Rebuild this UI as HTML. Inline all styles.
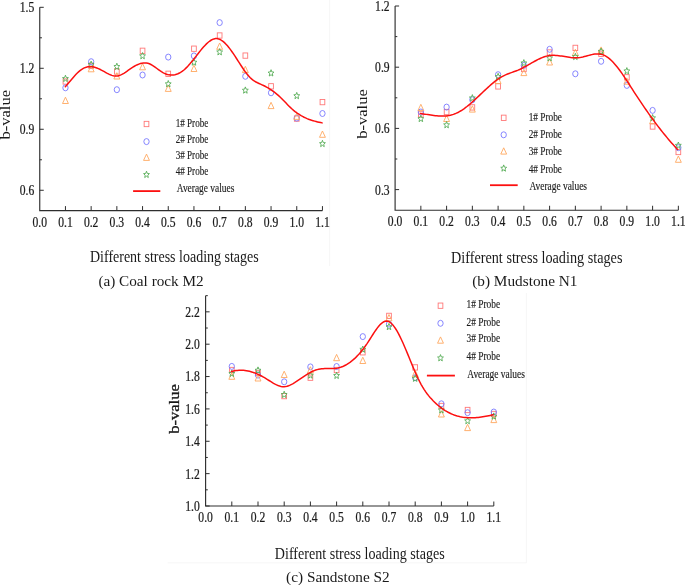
<!DOCTYPE html>
<html><head><meta charset="utf-8"><style>
html,body{margin:0;padding:0;background:#fff;}
body{width:685px;height:585px;overflow:hidden;}
svg{display:block;will-change:transform;filter:blur(0.3px);}
text{font-family:"Liberation Serif", serif;fill:#1a1a1a;}
.tk{font-size:14px;stroke:#222;stroke-width:0.25px;}
.yt{font-size:16.5px;}
.xt{font-size:16px;}
.cap{font-size:15px;}
.lg{font-size:11.8px;stroke:#222;stroke-width:0.15px;}
</style></head><body>
<svg width="685" height="585" viewBox="0 0 685 585">
<rect width="685" height="585" fill="#fff"/>
<line x1="329.6" y1="0" x2="329.6" y2="266" stroke="#f4f4f4" stroke-width="0.8"/>
<path d="M167.7,562.8 H526.4 V293" fill="none" stroke="#f4f4f4" stroke-width="0.8"/>
<path d="M39.75,7.30 V210.60 H322.45" fill="none" stroke="#2e2e2e" stroke-width="1.15"/>
<line x1="65.45" y1="210.60" x2="65.45" y2="206.10" stroke="#2e2e2e" stroke-width="1"/>
<line x1="91.15" y1="210.60" x2="91.15" y2="206.10" stroke="#2e2e2e" stroke-width="1"/>
<line x1="116.85" y1="210.60" x2="116.85" y2="206.10" stroke="#2e2e2e" stroke-width="1"/>
<line x1="142.55" y1="210.60" x2="142.55" y2="206.10" stroke="#2e2e2e" stroke-width="1"/>
<line x1="168.25" y1="210.60" x2="168.25" y2="206.10" stroke="#2e2e2e" stroke-width="1"/>
<line x1="193.95" y1="210.60" x2="193.95" y2="206.10" stroke="#2e2e2e" stroke-width="1"/>
<line x1="219.65" y1="210.60" x2="219.65" y2="206.10" stroke="#2e2e2e" stroke-width="1"/>
<line x1="245.35" y1="210.60" x2="245.35" y2="206.10" stroke="#2e2e2e" stroke-width="1"/>
<line x1="271.05" y1="210.60" x2="271.05" y2="206.10" stroke="#2e2e2e" stroke-width="1"/>
<line x1="296.75" y1="210.60" x2="296.75" y2="206.10" stroke="#2e2e2e" stroke-width="1"/>
<line x1="322.45" y1="210.60" x2="322.45" y2="206.10" stroke="#2e2e2e" stroke-width="1"/>
<text transform="translate(39.75,226.50) scale(0.83,1)" text-anchor="middle" class="tk">0.0</text>
<text transform="translate(65.45,226.50) scale(0.83,1)" text-anchor="middle" class="tk">0.1</text>
<text transform="translate(91.15,226.50) scale(0.83,1)" text-anchor="middle" class="tk">0.2</text>
<text transform="translate(116.85,226.50) scale(0.83,1)" text-anchor="middle" class="tk">0.3</text>
<text transform="translate(142.55,226.50) scale(0.83,1)" text-anchor="middle" class="tk">0.4</text>
<text transform="translate(168.25,226.50) scale(0.83,1)" text-anchor="middle" class="tk">0.5</text>
<text transform="translate(193.95,226.50) scale(0.83,1)" text-anchor="middle" class="tk">0.6</text>
<text transform="translate(219.65,226.50) scale(0.83,1)" text-anchor="middle" class="tk">0.7</text>
<text transform="translate(245.35,226.50) scale(0.83,1)" text-anchor="middle" class="tk">0.8</text>
<text transform="translate(271.05,226.50) scale(0.83,1)" text-anchor="middle" class="tk">0.9</text>
<text transform="translate(296.75,226.50) scale(0.83,1)" text-anchor="middle" class="tk">1.0</text>
<text transform="translate(322.45,226.50) scale(0.83,1)" text-anchor="middle" class="tk">1.1</text>
<line x1="39.75" y1="7.30" x2="43.75" y2="7.30" stroke="#2e2e2e" stroke-width="1"/>
<text transform="translate(34.25,12.20) scale(0.83,1)" text-anchor="end" class="tk">1.5</text>
<line x1="39.75" y1="68.29" x2="43.75" y2="68.29" stroke="#2e2e2e" stroke-width="1"/>
<text transform="translate(34.25,73.19) scale(0.83,1)" text-anchor="end" class="tk">1.2</text>
<line x1="39.75" y1="129.28" x2="43.75" y2="129.28" stroke="#2e2e2e" stroke-width="1"/>
<text transform="translate(34.25,134.18) scale(0.83,1)" text-anchor="end" class="tk">0.9</text>
<line x1="39.75" y1="190.27" x2="43.75" y2="190.27" stroke="#2e2e2e" stroke-width="1"/>
<text transform="translate(34.25,195.17) scale(0.83,1)" text-anchor="end" class="tk">0.6</text>
<line x1="39.75" y1="37.79" x2="41.95" y2="37.79" stroke="#2e2e2e" stroke-width="1"/>
<line x1="39.75" y1="98.78" x2="41.95" y2="98.78" stroke="#2e2e2e" stroke-width="1"/>
<line x1="39.75" y1="159.78" x2="41.95" y2="159.78" stroke="#2e2e2e" stroke-width="1"/>
<text transform="translate(10.30,114.70) scale(0.82,1) rotate(-90)" text-anchor="middle" class="yt">b-value</text>
<text transform="translate(90.00,262.00) scale(0.875,1)" class="xt">Different stress loading stages</text>
<text transform="translate(98.40,285.90) scale(1.015,1)" class="cap">(a) Coal rock M2</text>
<rect x="63.10" y="78.85" width="4.7" height="5.3" fill="none" stroke="#ff7878" stroke-width="0.9"/>
<rect x="88.80" y="63.15" width="4.7" height="5.3" fill="none" stroke="#ff7878" stroke-width="0.9"/>
<rect x="114.50" y="68.85" width="4.7" height="5.3" fill="none" stroke="#ff7878" stroke-width="0.9"/>
<rect x="140.20" y="48.15" width="4.7" height="5.3" fill="none" stroke="#ff7878" stroke-width="0.9"/>
<rect x="165.90" y="71.15" width="4.7" height="5.3" fill="none" stroke="#ff7878" stroke-width="0.9"/>
<rect x="191.60" y="46.05" width="4.7" height="5.3" fill="none" stroke="#ff7878" stroke-width="0.9"/>
<rect x="217.30" y="32.85" width="4.7" height="5.3" fill="none" stroke="#ff7878" stroke-width="0.9"/>
<rect x="243.00" y="52.95" width="4.7" height="5.3" fill="none" stroke="#ff7878" stroke-width="0.9"/>
<rect x="268.70" y="83.65" width="4.7" height="5.3" fill="none" stroke="#ff7878" stroke-width="0.9"/>
<rect x="294.40" y="115.95" width="4.7" height="5.3" fill="none" stroke="#ff7878" stroke-width="0.9"/>
<rect x="320.10" y="99.45" width="4.7" height="5.3" fill="none" stroke="#ff7878" stroke-width="0.9"/>
<ellipse cx="65.45" cy="87.80" rx="2.65" ry="3.0" fill="none" stroke="#7878ff" stroke-width="0.9"/>
<ellipse cx="91.15" cy="61.70" rx="2.65" ry="3.0" fill="none" stroke="#7878ff" stroke-width="0.9"/>
<ellipse cx="116.85" cy="89.70" rx="2.65" ry="3.0" fill="none" stroke="#7878ff" stroke-width="0.9"/>
<ellipse cx="142.55" cy="75.00" rx="2.65" ry="3.0" fill="none" stroke="#7878ff" stroke-width="0.9"/>
<ellipse cx="168.25" cy="57.10" rx="2.65" ry="3.0" fill="none" stroke="#7878ff" stroke-width="0.9"/>
<ellipse cx="193.95" cy="55.90" rx="2.65" ry="3.0" fill="none" stroke="#7878ff" stroke-width="0.9"/>
<ellipse cx="219.65" cy="22.60" rx="2.65" ry="3.0" fill="none" stroke="#7878ff" stroke-width="0.9"/>
<ellipse cx="245.35" cy="76.30" rx="2.65" ry="3.0" fill="none" stroke="#7878ff" stroke-width="0.9"/>
<ellipse cx="271.05" cy="92.80" rx="2.65" ry="3.0" fill="none" stroke="#7878ff" stroke-width="0.9"/>
<ellipse cx="296.75" cy="118.10" rx="2.65" ry="3.0" fill="none" stroke="#7878ff" stroke-width="0.9"/>
<ellipse cx="322.45" cy="113.50" rx="2.65" ry="3.0" fill="none" stroke="#7878ff" stroke-width="0.9"/>
<path d="M65.45,97.20 L68.40,103.50 L62.50,103.50 Z" fill="none" stroke="#ffa860" stroke-width="0.9" stroke-linejoin="miter"/>
<path d="M91.15,65.50 L94.10,71.80 L88.20,71.80 Z" fill="none" stroke="#ffa860" stroke-width="0.9" stroke-linejoin="miter"/>
<path d="M116.85,72.70 L119.80,79.00 L113.90,79.00 Z" fill="none" stroke="#ffa860" stroke-width="0.9" stroke-linejoin="miter"/>
<path d="M142.55,63.50 L145.50,69.80 L139.60,69.80 Z" fill="none" stroke="#ffa860" stroke-width="0.9" stroke-linejoin="miter"/>
<path d="M168.25,85.10 L171.20,91.40 L165.30,91.40 Z" fill="none" stroke="#ffa860" stroke-width="0.9" stroke-linejoin="miter"/>
<path d="M193.95,65.20 L196.90,71.50 L191.00,71.50 Z" fill="none" stroke="#ffa860" stroke-width="0.9" stroke-linejoin="miter"/>
<path d="M219.65,43.00 L222.60,49.30 L216.70,49.30 Z" fill="none" stroke="#ffa860" stroke-width="0.9" stroke-linejoin="miter"/>
<path d="M245.35,66.30 L248.30,72.60 L242.40,72.60 Z" fill="none" stroke="#ffa860" stroke-width="0.9" stroke-linejoin="miter"/>
<path d="M271.05,102.30 L274.00,108.60 L268.10,108.60 Z" fill="none" stroke="#ffa860" stroke-width="0.9" stroke-linejoin="miter"/>
<path d="M296.75,113.10 L299.70,119.40 L293.80,119.40 Z" fill="none" stroke="#ffa860" stroke-width="0.9" stroke-linejoin="miter"/>
<path d="M322.45,131.00 L325.40,137.30 L319.50,137.30 Z" fill="none" stroke="#ffa860" stroke-width="0.9" stroke-linejoin="miter"/>
<path d="M65.45,75.20 L66.25,77.45 L68.38,77.62 L66.75,79.18 L67.26,81.53 L65.45,80.25 L63.64,81.53 L64.15,79.18 L62.52,77.62 L64.65,77.45 Z" fill="none" stroke="#56ad56" stroke-width="0.9"/>
<path d="M91.15,61.10 L91.95,63.35 L94.08,63.52 L92.45,65.08 L92.96,67.43 L91.15,66.15 L89.34,67.43 L89.85,65.08 L88.22,63.52 L90.35,63.35 Z" fill="none" stroke="#56ad56" stroke-width="0.9"/>
<path d="M116.85,63.20 L117.65,65.45 L119.78,65.62 L118.15,67.18 L118.66,69.53 L116.85,68.25 L115.04,69.53 L115.55,67.18 L113.92,65.62 L116.05,65.45 Z" fill="none" stroke="#56ad56" stroke-width="0.9"/>
<path d="M142.55,52.50 L143.35,54.75 L145.48,54.92 L143.85,56.48 L144.36,58.83 L142.55,57.55 L140.74,58.83 L141.25,56.48 L139.62,54.92 L141.75,54.75 Z" fill="none" stroke="#56ad56" stroke-width="0.9"/>
<path d="M168.25,80.50 L169.05,82.75 L171.18,82.92 L169.55,84.48 L170.06,86.83 L168.25,85.55 L166.44,86.83 L166.95,84.48 L165.32,82.92 L167.45,82.75 Z" fill="none" stroke="#56ad56" stroke-width="0.9"/>
<path d="M193.95,58.90 L194.75,61.15 L196.88,61.32 L195.25,62.88 L195.76,65.23 L193.95,63.95 L192.14,65.23 L192.65,62.88 L191.02,61.32 L193.15,61.15 Z" fill="none" stroke="#56ad56" stroke-width="0.9"/>
<path d="M219.65,48.60 L220.45,50.85 L222.58,51.02 L220.95,52.58 L221.46,54.93 L219.65,53.65 L217.84,54.93 L218.35,52.58 L216.72,51.02 L218.85,50.85 Z" fill="none" stroke="#56ad56" stroke-width="0.9"/>
<path d="M245.35,86.90 L246.15,89.15 L248.28,89.32 L246.65,90.88 L247.16,93.23 L245.35,91.95 L243.54,93.23 L244.05,90.88 L242.42,89.32 L244.55,89.15 Z" fill="none" stroke="#56ad56" stroke-width="0.9"/>
<path d="M271.05,69.70 L271.85,71.95 L273.98,72.12 L272.35,73.68 L272.86,76.03 L271.05,74.75 L269.24,76.03 L269.75,73.68 L268.12,72.12 L270.25,71.95 Z" fill="none" stroke="#56ad56" stroke-width="0.9"/>
<path d="M296.75,92.40 L297.55,94.65 L299.68,94.82 L298.05,96.38 L298.56,98.73 L296.75,97.45 L294.94,98.73 L295.45,96.38 L293.82,94.82 L295.95,94.65 Z" fill="none" stroke="#56ad56" stroke-width="0.9"/>
<path d="M322.45,140.30 L323.25,142.55 L325.38,142.72 L323.75,144.28 L324.26,146.63 L322.45,145.35 L320.64,146.63 L321.15,144.28 L319.52,142.72 L321.65,142.55 Z" fill="none" stroke="#56ad56" stroke-width="0.9"/>
<path d="M65.30,86.78 L66.80,85.03 L68.30,83.24 L69.81,81.45 L71.31,79.66 L72.81,77.91 L74.31,76.21 L75.81,74.59 L77.31,73.07 L78.82,71.66 L80.32,70.40 L81.82,69.30 L83.32,68.38 L84.82,67.67 L86.32,67.15 L87.83,66.81 L89.33,66.65 L90.83,66.65 L92.33,66.79 L93.83,67.07 L95.34,67.47 L96.84,67.98 L98.34,68.58 L99.84,69.27 L101.34,70.04 L102.84,70.86 L104.35,71.70 L105.85,72.55 L107.35,73.36 L108.85,74.12 L110.35,74.79 L111.85,75.35 L113.36,75.77 L114.86,76.02 L116.36,76.08 L117.86,75.90 L119.36,75.51 L120.86,74.91 L122.37,74.16 L123.87,73.28 L125.37,72.31 L126.87,71.28 L128.37,70.21 L129.88,69.16 L131.38,68.13 L132.88,67.17 L134.38,66.26 L135.88,65.44 L137.38,64.71 L138.89,64.09 L140.39,63.58 L141.89,63.21 L143.39,62.99 L144.89,62.92 L146.39,63.03 L147.90,63.32 L149.40,63.81 L150.90,64.50 L152.40,65.35 L153.90,66.32 L155.41,67.38 L156.91,68.48 L158.41,69.59 L159.91,70.68 L161.41,71.70 L162.91,72.61 L164.42,73.39 L165.92,74.03 L167.42,74.51 L168.92,74.86 L170.42,75.05 L171.92,75.09 L173.43,74.99 L174.93,74.73 L176.43,74.32 L177.93,73.76 L179.43,73.05 L180.94,72.18 L182.44,71.15 L183.94,69.97 L185.44,68.63 L186.94,67.15 L188.44,65.55 L189.95,63.85 L191.45,62.06 L192.95,60.21 L194.45,58.31 L195.95,56.39 L197.45,54.45 L198.96,52.53 L200.46,50.64 L201.96,48.81 L203.46,47.05 L204.96,45.40 L206.46,43.87 L207.97,42.49 L209.47,41.28 L210.97,40.26 L212.47,39.46 L213.97,38.91 L215.48,38.61 L216.98,38.60 L218.48,38.89 L219.98,39.46 L221.48,40.29 L222.98,41.36 L224.49,42.65 L225.99,44.15 L227.49,45.82 L228.99,47.65 L230.49,49.62 L231.99,51.71 L233.50,53.90 L235.00,56.16 L236.50,58.48 L238.00,60.83 L239.50,63.18 L241.01,65.51 L242.51,67.78 L244.01,69.98 L245.51,72.07 L247.01,74.03 L248.51,75.84 L250.02,77.46 L251.52,78.87 L253.02,80.07 L254.52,81.10 L256.02,81.99 L257.52,82.77 L259.03,83.49 L260.53,84.17 L262.03,84.84 L263.53,85.55 L265.03,86.29 L266.54,87.09 L268.04,87.94 L269.54,88.85 L271.04,89.81 L272.54,90.83 L274.04,91.92 L275.55,93.08 L277.05,94.31 L278.55,95.61 L280.05,96.99 L281.55,98.45 L283.05,99.97 L284.56,101.52 L286.06,103.09 L287.56,104.65 L289.06,106.18 L290.56,107.65 L292.06,109.05 L293.57,110.35 L295.07,111.57 L296.57,112.70 L298.07,113.75 L299.57,114.73 L301.08,115.63 L302.58,116.46 L304.08,117.23 L305.58,117.94 L307.08,118.59 L308.58,119.19 L310.09,119.74 L311.59,120.25 L313.09,120.71 L314.59,121.14 L316.09,121.54 L317.59,121.91 L319.10,122.25 L320.60,122.58 L322.10,122.89" fill="none" stroke="#fc1010" stroke-width="1.5" stroke-linecap="round"/>
<rect x="144.15" y="121.35" width="4.7" height="5.3" fill="none" stroke="#ff7878" stroke-width="0.9"/>
<text x="175.70" y="127.30" class="lg" textLength="32.6" lengthAdjust="spacingAndGlyphs">1# Probe</text>
<ellipse cx="146.50" cy="141.60" rx="2.65" ry="3.0" fill="none" stroke="#7878ff" stroke-width="0.9"/>
<text x="175.70" y="143.30" class="lg" textLength="32.6" lengthAdjust="spacingAndGlyphs">2# Probe</text>
<path d="M146.50,154.10 L149.45,160.40 L143.55,160.40 Z" fill="none" stroke="#ffa860" stroke-width="0.9" stroke-linejoin="miter"/>
<text x="175.70" y="158.50" class="lg" textLength="32.6" lengthAdjust="spacingAndGlyphs">3# Probe</text>
<path d="M146.50,171.20 L147.30,173.45 L149.43,173.62 L147.80,175.18 L148.31,177.53 L146.50,176.25 L144.69,177.53 L145.20,175.18 L143.57,173.62 L145.70,173.45 Z" fill="none" stroke="#56ad56" stroke-width="0.9"/>
<text x="175.70" y="174.60" class="lg" textLength="32.6" lengthAdjust="spacingAndGlyphs">4# Probe</text>
<line x1="133.10" y1="191.10" x2="160.30" y2="191.10" stroke="#fc1010" stroke-width="1.8"/>
<text x="176.80" y="191.70" class="lg" textLength="57.5" lengthAdjust="spacingAndGlyphs">Average values</text>
<path d="M395.10,6.00 V210.25 H678.35" fill="none" stroke="#2e2e2e" stroke-width="1.15"/>
<line x1="420.85" y1="210.25" x2="420.85" y2="205.75" stroke="#2e2e2e" stroke-width="1"/>
<line x1="446.60" y1="210.25" x2="446.60" y2="205.75" stroke="#2e2e2e" stroke-width="1"/>
<line x1="472.35" y1="210.25" x2="472.35" y2="205.75" stroke="#2e2e2e" stroke-width="1"/>
<line x1="498.10" y1="210.25" x2="498.10" y2="205.75" stroke="#2e2e2e" stroke-width="1"/>
<line x1="523.85" y1="210.25" x2="523.85" y2="205.75" stroke="#2e2e2e" stroke-width="1"/>
<line x1="549.60" y1="210.25" x2="549.60" y2="205.75" stroke="#2e2e2e" stroke-width="1"/>
<line x1="575.35" y1="210.25" x2="575.35" y2="205.75" stroke="#2e2e2e" stroke-width="1"/>
<line x1="601.10" y1="210.25" x2="601.10" y2="205.75" stroke="#2e2e2e" stroke-width="1"/>
<line x1="626.85" y1="210.25" x2="626.85" y2="205.75" stroke="#2e2e2e" stroke-width="1"/>
<line x1="652.60" y1="210.25" x2="652.60" y2="205.75" stroke="#2e2e2e" stroke-width="1"/>
<line x1="678.35" y1="210.25" x2="678.35" y2="205.75" stroke="#2e2e2e" stroke-width="1"/>
<text transform="translate(395.10,226.20) scale(0.83,1)" text-anchor="middle" class="tk">0.0</text>
<text transform="translate(420.85,226.20) scale(0.83,1)" text-anchor="middle" class="tk">0.1</text>
<text transform="translate(446.60,226.20) scale(0.83,1)" text-anchor="middle" class="tk">0.2</text>
<text transform="translate(472.35,226.20) scale(0.83,1)" text-anchor="middle" class="tk">0.3</text>
<text transform="translate(498.10,226.20) scale(0.83,1)" text-anchor="middle" class="tk">0.4</text>
<text transform="translate(523.85,226.20) scale(0.83,1)" text-anchor="middle" class="tk">0.5</text>
<text transform="translate(549.60,226.20) scale(0.83,1)" text-anchor="middle" class="tk">0.6</text>
<text transform="translate(575.35,226.20) scale(0.83,1)" text-anchor="middle" class="tk">0.7</text>
<text transform="translate(601.10,226.20) scale(0.83,1)" text-anchor="middle" class="tk">0.8</text>
<text transform="translate(626.85,226.20) scale(0.83,1)" text-anchor="middle" class="tk">0.9</text>
<text transform="translate(652.60,226.20) scale(0.83,1)" text-anchor="middle" class="tk">1.0</text>
<text transform="translate(678.35,226.20) scale(0.83,1)" text-anchor="middle" class="tk">1.1</text>
<line x1="395.10" y1="6.00" x2="399.10" y2="6.00" stroke="#2e2e2e" stroke-width="1"/>
<text transform="translate(389.60,10.90) scale(0.83,1)" text-anchor="end" class="tk">1.2</text>
<line x1="395.10" y1="67.20" x2="399.10" y2="67.20" stroke="#2e2e2e" stroke-width="1"/>
<text transform="translate(389.60,72.10) scale(0.83,1)" text-anchor="end" class="tk">0.9</text>
<line x1="395.10" y1="128.40" x2="399.10" y2="128.40" stroke="#2e2e2e" stroke-width="1"/>
<text transform="translate(389.60,133.30) scale(0.83,1)" text-anchor="end" class="tk">0.6</text>
<line x1="395.10" y1="189.60" x2="399.10" y2="189.60" stroke="#2e2e2e" stroke-width="1"/>
<text transform="translate(389.60,194.50) scale(0.83,1)" text-anchor="end" class="tk">0.3</text>
<line x1="395.10" y1="36.60" x2="397.30" y2="36.60" stroke="#2e2e2e" stroke-width="1"/>
<line x1="395.10" y1="97.80" x2="397.30" y2="97.80" stroke="#2e2e2e" stroke-width="1"/>
<line x1="395.10" y1="159.00" x2="397.30" y2="159.00" stroke="#2e2e2e" stroke-width="1"/>
<text transform="translate(366.60,114.00) scale(0.82,1) rotate(-90)" text-anchor="middle" class="yt">b-value</text>
<text transform="translate(451.00,262.50) scale(0.889,1)" class="xt">Different stress loading stages</text>
<text transform="translate(472.20,285.90) scale(1.02,1)" class="cap">(b) Mudstone N1</text>
<rect x="418.50" y="111.75" width="4.7" height="5.3" fill="none" stroke="#ff7878" stroke-width="0.9"/>
<rect x="444.25" y="109.35" width="4.7" height="5.3" fill="none" stroke="#ff7878" stroke-width="0.9"/>
<rect x="470.00" y="104.75" width="4.7" height="5.3" fill="none" stroke="#ff7878" stroke-width="0.9"/>
<rect x="495.75" y="83.75" width="4.7" height="5.3" fill="none" stroke="#ff7878" stroke-width="0.9"/>
<rect x="521.50" y="66.35" width="4.7" height="5.3" fill="none" stroke="#ff7878" stroke-width="0.9"/>
<rect x="547.25" y="49.85" width="4.7" height="5.3" fill="none" stroke="#ff7878" stroke-width="0.9"/>
<rect x="573.00" y="45.25" width="4.7" height="5.3" fill="none" stroke="#ff7878" stroke-width="0.9"/>
<rect x="598.75" y="51.15" width="4.7" height="5.3" fill="none" stroke="#ff7878" stroke-width="0.9"/>
<rect x="624.50" y="74.65" width="4.7" height="5.3" fill="none" stroke="#ff7878" stroke-width="0.9"/>
<rect x="650.25" y="123.85" width="4.7" height="5.3" fill="none" stroke="#ff7878" stroke-width="0.9"/>
<rect x="676.00" y="149.35" width="4.7" height="5.3" fill="none" stroke="#ff7878" stroke-width="0.9"/>
<ellipse cx="420.85" cy="112.00" rx="2.65" ry="3.0" fill="none" stroke="#7878ff" stroke-width="0.9"/>
<ellipse cx="446.60" cy="107.10" rx="2.65" ry="3.0" fill="none" stroke="#7878ff" stroke-width="0.9"/>
<ellipse cx="472.35" cy="99.80" rx="2.65" ry="3.0" fill="none" stroke="#7878ff" stroke-width="0.9"/>
<ellipse cx="498.10" cy="74.70" rx="2.65" ry="3.0" fill="none" stroke="#7878ff" stroke-width="0.9"/>
<ellipse cx="523.85" cy="65.40" rx="2.65" ry="3.0" fill="none" stroke="#7878ff" stroke-width="0.9"/>
<ellipse cx="549.60" cy="49.30" rx="2.65" ry="3.0" fill="none" stroke="#7878ff" stroke-width="0.9"/>
<ellipse cx="575.35" cy="73.80" rx="2.65" ry="3.0" fill="none" stroke="#7878ff" stroke-width="0.9"/>
<ellipse cx="601.10" cy="61.30" rx="2.65" ry="3.0" fill="none" stroke="#7878ff" stroke-width="0.9"/>
<ellipse cx="626.85" cy="85.40" rx="2.65" ry="3.0" fill="none" stroke="#7878ff" stroke-width="0.9"/>
<ellipse cx="652.60" cy="110.40" rx="2.65" ry="3.0" fill="none" stroke="#7878ff" stroke-width="0.9"/>
<ellipse cx="678.35" cy="147.70" rx="2.65" ry="3.0" fill="none" stroke="#7878ff" stroke-width="0.9"/>
<path d="M420.85,104.30 L423.80,110.60 L417.90,110.60 Z" fill="none" stroke="#ffa860" stroke-width="0.9" stroke-linejoin="miter"/>
<path d="M446.60,115.20 L449.55,121.50 L443.65,121.50 Z" fill="none" stroke="#ffa860" stroke-width="0.9" stroke-linejoin="miter"/>
<path d="M472.35,105.80 L475.30,112.10 L469.40,112.10 Z" fill="none" stroke="#ffa860" stroke-width="0.9" stroke-linejoin="miter"/>
<path d="M498.10,77.20 L501.05,83.50 L495.15,83.50 Z" fill="none" stroke="#ffa860" stroke-width="0.9" stroke-linejoin="miter"/>
<path d="M523.85,69.30 L526.80,75.60 L520.90,75.60 Z" fill="none" stroke="#ffa860" stroke-width="0.9" stroke-linejoin="miter"/>
<path d="M549.60,58.70 L552.55,65.00 L546.65,65.00 Z" fill="none" stroke="#ffa860" stroke-width="0.9" stroke-linejoin="miter"/>
<path d="M575.35,49.20 L578.30,55.50 L572.40,55.50 Z" fill="none" stroke="#ffa860" stroke-width="0.9" stroke-linejoin="miter"/>
<path d="M601.10,46.90 L604.05,53.20 L598.15,53.20 Z" fill="none" stroke="#ffa860" stroke-width="0.9" stroke-linejoin="miter"/>
<path d="M626.85,77.90 L629.80,84.20 L623.90,84.20 Z" fill="none" stroke="#ffa860" stroke-width="0.9" stroke-linejoin="miter"/>
<path d="M652.60,117.40 L655.55,123.70 L649.65,123.70 Z" fill="none" stroke="#ffa860" stroke-width="0.9" stroke-linejoin="miter"/>
<path d="M678.35,156.00 L681.30,162.30 L675.40,162.30 Z" fill="none" stroke="#ffa860" stroke-width="0.9" stroke-linejoin="miter"/>
<path d="M420.85,115.30 L421.65,117.55 L423.78,117.72 L422.15,119.28 L422.66,121.63 L420.85,120.35 L419.04,121.63 L419.55,119.28 L417.92,117.72 L420.05,117.55 Z" fill="none" stroke="#56ad56" stroke-width="0.9"/>
<path d="M446.60,121.50 L447.40,123.75 L449.53,123.92 L447.90,125.48 L448.41,127.83 L446.60,126.55 L444.79,127.83 L445.30,125.48 L443.67,123.92 L445.80,123.75 Z" fill="none" stroke="#56ad56" stroke-width="0.9"/>
<path d="M472.35,94.60 L473.15,96.85 L475.28,97.02 L473.65,98.58 L474.16,100.93 L472.35,99.65 L470.54,100.93 L471.05,98.58 L469.42,97.02 L471.55,96.85 Z" fill="none" stroke="#56ad56" stroke-width="0.9"/>
<path d="M498.10,73.30 L498.90,75.55 L501.03,75.72 L499.40,77.28 L499.91,79.63 L498.10,78.35 L496.29,79.63 L496.80,77.28 L495.17,75.72 L497.30,75.55 Z" fill="none" stroke="#56ad56" stroke-width="0.9"/>
<path d="M523.85,59.60 L524.65,61.85 L526.78,62.02 L525.15,63.58 L525.66,65.93 L523.85,64.65 L522.04,65.93 L522.55,63.58 L520.92,62.02 L523.05,61.85 Z" fill="none" stroke="#56ad56" stroke-width="0.9"/>
<path d="M549.60,54.60 L550.40,56.85 L552.53,57.02 L550.90,58.58 L551.41,60.93 L549.60,59.65 L547.79,60.93 L548.30,58.58 L546.67,57.02 L548.80,56.85 Z" fill="none" stroke="#56ad56" stroke-width="0.9"/>
<path d="M575.35,53.30 L576.15,55.55 L578.28,55.72 L576.65,57.28 L577.16,59.63 L575.35,58.35 L573.54,59.63 L574.05,57.28 L572.42,55.72 L574.55,55.55 Z" fill="none" stroke="#56ad56" stroke-width="0.9"/>
<path d="M601.10,48.00 L601.90,50.25 L604.03,50.42 L602.40,51.98 L602.91,54.33 L601.10,53.05 L599.29,54.33 L599.80,51.98 L598.17,50.42 L600.30,50.25 Z" fill="none" stroke="#56ad56" stroke-width="0.9"/>
<path d="M626.85,67.60 L627.65,69.85 L629.78,70.02 L628.15,71.58 L628.66,73.93 L626.85,72.65 L625.04,73.93 L625.55,71.58 L623.92,70.02 L626.05,69.85 Z" fill="none" stroke="#56ad56" stroke-width="0.9"/>
<path d="M652.60,114.50 L653.40,116.75 L655.53,116.92 L653.90,118.48 L654.41,120.83 L652.60,119.55 L650.79,120.83 L651.30,118.48 L649.67,116.92 L651.80,116.75 Z" fill="none" stroke="#56ad56" stroke-width="0.9"/>
<path d="M678.35,142.00 L679.15,144.25 L681.28,144.42 L679.65,145.98 L680.16,148.33 L678.35,147.05 L676.54,148.33 L677.05,145.98 L675.42,144.42 L677.55,144.25 Z" fill="none" stroke="#56ad56" stroke-width="0.9"/>
<path d="M420.30,113.53 L421.80,113.72 L423.31,113.92 L424.81,114.14 L426.32,114.37 L427.82,114.60 L429.33,114.83 L430.83,115.05 L432.34,115.27 L433.84,115.46 L435.35,115.64 L436.85,115.79 L438.36,115.92 L439.86,116.00 L441.37,116.05 L442.87,116.05 L444.37,116.00 L445.88,115.89 L447.38,115.73 L448.89,115.49 L450.39,115.19 L451.90,114.82 L453.40,114.36 L454.91,113.82 L456.41,113.19 L457.92,112.46 L459.42,111.65 L460.93,110.76 L462.43,109.80 L463.94,108.77 L465.44,107.67 L466.95,106.51 L468.45,105.30 L469.95,104.05 L471.46,102.75 L472.96,101.42 L474.47,100.05 L475.97,98.67 L477.48,97.26 L478.98,95.84 L480.49,94.41 L481.99,92.97 L483.50,91.54 L485.00,90.12 L486.51,88.71 L488.01,87.33 L489.52,85.97 L491.02,84.64 L492.52,83.36 L494.03,82.12 L495.53,80.94 L497.04,79.81 L498.54,78.76 L500.05,77.78 L501.55,76.88 L503.06,76.06 L504.56,75.33 L506.07,74.65 L507.57,74.03 L509.08,73.45 L510.58,72.90 L512.09,72.36 L513.59,71.82 L515.09,71.27 L516.60,70.70 L518.10,70.10 L519.61,69.45 L521.11,68.75 L522.62,68.00 L524.12,67.21 L525.63,66.39 L527.13,65.55 L528.64,64.69 L530.14,63.83 L531.65,62.97 L533.15,62.12 L534.66,61.28 L536.16,60.47 L537.66,59.69 L539.17,58.95 L540.67,58.26 L542.18,57.63 L543.68,57.06 L545.19,56.56 L546.69,56.14 L548.20,55.81 L549.70,55.57 L551.21,55.42 L552.71,55.36 L554.22,55.36 L555.72,55.42 L557.23,55.54 L558.73,55.70 L560.24,55.89 L561.74,56.11 L563.24,56.35 L564.75,56.60 L566.25,56.84 L567.76,57.08 L569.26,57.29 L570.77,57.48 L572.27,57.63 L573.78,57.73 L575.28,57.78 L576.79,57.77 L578.29,57.68 L579.80,57.51 L581.30,57.26 L582.81,56.95 L584.31,56.58 L585.81,56.19 L587.32,55.78 L588.82,55.37 L590.33,54.98 L591.83,54.63 L593.34,54.33 L594.84,54.10 L596.35,53.96 L597.85,53.92 L599.36,54.01 L600.86,54.23 L602.37,54.61 L603.87,55.16 L605.38,55.89 L606.88,56.80 L608.38,57.88 L609.89,59.11 L611.39,60.49 L612.90,62.01 L614.40,63.65 L615.91,65.41 L617.41,67.28 L618.92,69.24 L620.42,71.28 L621.93,73.40 L623.43,75.58 L624.94,77.81 L626.44,80.09 L627.95,82.41 L629.45,84.74 L630.95,87.09 L632.46,89.44 L633.96,91.78 L635.47,94.10 L636.97,96.40 L638.48,98.69 L639.98,100.95 L641.49,103.19 L642.99,105.41 L644.50,107.61 L646.00,109.79 L647.51,111.94 L649.01,114.07 L650.52,116.17 L652.02,118.25 L653.53,120.31 L655.03,122.34 L656.53,124.35 L658.04,126.33 L659.54,128.28 L661.05,130.21 L662.55,132.11 L664.06,133.98 L665.56,135.82 L667.07,137.64 L668.57,139.42 L670.08,141.18 L671.58,142.91 L673.09,144.60 L674.59,146.27 L676.10,147.90 L677.60,149.50" fill="none" stroke="#fc1010" stroke-width="1.5" stroke-linecap="round"/>
<rect x="501.35" y="115.15" width="4.7" height="5.3" fill="none" stroke="#ff7878" stroke-width="0.9"/>
<text x="528.70" y="121.40" class="lg" textLength="33.3" lengthAdjust="spacingAndGlyphs">1# Probe</text>
<ellipse cx="503.70" cy="134.80" rx="2.65" ry="3.0" fill="none" stroke="#7878ff" stroke-width="0.9"/>
<text x="528.70" y="138.00" class="lg" textLength="33.3" lengthAdjust="spacingAndGlyphs">2# Probe</text>
<path d="M503.70,147.80 L506.65,154.10 L500.75,154.10 Z" fill="none" stroke="#ffa860" stroke-width="0.9" stroke-linejoin="miter"/>
<text x="528.70" y="154.60" class="lg" textLength="33.3" lengthAdjust="spacingAndGlyphs">3# Probe</text>
<path d="M503.70,164.90 L504.50,167.15 L506.63,167.32 L505.00,168.88 L505.51,171.23 L503.70,169.95 L501.89,171.23 L502.40,168.88 L500.77,167.32 L502.90,167.15 Z" fill="none" stroke="#56ad56" stroke-width="0.9"/>
<text x="528.70" y="173.10" class="lg" textLength="33.3" lengthAdjust="spacingAndGlyphs">4# Probe</text>
<line x1="490.00" y1="185.20" x2="517.70" y2="185.20" stroke="#fc1010" stroke-width="1.8"/>
<text x="529.50" y="190.40" class="lg" textLength="57.5" lengthAdjust="spacingAndGlyphs">Average values</text>
<path d="M205.60,295.66 V506.00 H493.80" fill="none" stroke="#2e2e2e" stroke-width="1.15"/>
<line x1="231.80" y1="506.00" x2="231.80" y2="501.50" stroke="#2e2e2e" stroke-width="1"/>
<line x1="258.00" y1="506.00" x2="258.00" y2="501.50" stroke="#2e2e2e" stroke-width="1"/>
<line x1="284.20" y1="506.00" x2="284.20" y2="501.50" stroke="#2e2e2e" stroke-width="1"/>
<line x1="310.40" y1="506.00" x2="310.40" y2="501.50" stroke="#2e2e2e" stroke-width="1"/>
<line x1="336.60" y1="506.00" x2="336.60" y2="501.50" stroke="#2e2e2e" stroke-width="1"/>
<line x1="362.80" y1="506.00" x2="362.80" y2="501.50" stroke="#2e2e2e" stroke-width="1"/>
<line x1="389.00" y1="506.00" x2="389.00" y2="501.50" stroke="#2e2e2e" stroke-width="1"/>
<line x1="415.20" y1="506.00" x2="415.20" y2="501.50" stroke="#2e2e2e" stroke-width="1"/>
<line x1="441.40" y1="506.00" x2="441.40" y2="501.50" stroke="#2e2e2e" stroke-width="1"/>
<line x1="467.60" y1="506.00" x2="467.60" y2="501.50" stroke="#2e2e2e" stroke-width="1"/>
<line x1="493.80" y1="506.00" x2="493.80" y2="501.50" stroke="#2e2e2e" stroke-width="1"/>
<text transform="translate(205.60,521.90) scale(0.83,1)" text-anchor="middle" class="tk">0.0</text>
<text transform="translate(231.80,521.90) scale(0.83,1)" text-anchor="middle" class="tk">0.1</text>
<text transform="translate(258.00,521.90) scale(0.83,1)" text-anchor="middle" class="tk">0.2</text>
<text transform="translate(284.20,521.90) scale(0.83,1)" text-anchor="middle" class="tk">0.3</text>
<text transform="translate(310.40,521.90) scale(0.83,1)" text-anchor="middle" class="tk">0.4</text>
<text transform="translate(336.60,521.90) scale(0.83,1)" text-anchor="middle" class="tk">0.5</text>
<text transform="translate(362.80,521.90) scale(0.83,1)" text-anchor="middle" class="tk">0.6</text>
<text transform="translate(389.00,521.90) scale(0.83,1)" text-anchor="middle" class="tk">0.7</text>
<text transform="translate(415.20,521.90) scale(0.83,1)" text-anchor="middle" class="tk">0.8</text>
<text transform="translate(441.40,521.90) scale(0.83,1)" text-anchor="middle" class="tk">0.9</text>
<text transform="translate(467.60,521.90) scale(0.83,1)" text-anchor="middle" class="tk">1.0</text>
<text transform="translate(493.80,521.90) scale(0.83,1)" text-anchor="middle" class="tk">1.1</text>
<line x1="205.60" y1="311.84" x2="209.60" y2="311.84" stroke="#2e2e2e" stroke-width="1"/>
<text transform="translate(199.80,316.74) scale(0.83,1)" text-anchor="end" class="tk">2.2</text>
<line x1="205.60" y1="344.20" x2="209.60" y2="344.20" stroke="#2e2e2e" stroke-width="1"/>
<text transform="translate(199.80,349.10) scale(0.83,1)" text-anchor="end" class="tk">2.0</text>
<line x1="205.60" y1="376.56" x2="209.60" y2="376.56" stroke="#2e2e2e" stroke-width="1"/>
<text transform="translate(199.80,381.46) scale(0.83,1)" text-anchor="end" class="tk">1.8</text>
<line x1="205.60" y1="408.92" x2="209.60" y2="408.92" stroke="#2e2e2e" stroke-width="1"/>
<text transform="translate(199.80,413.82) scale(0.83,1)" text-anchor="end" class="tk">1.6</text>
<line x1="205.60" y1="441.28" x2="209.60" y2="441.28" stroke="#2e2e2e" stroke-width="1"/>
<text transform="translate(199.80,446.18) scale(0.83,1)" text-anchor="end" class="tk">1.4</text>
<line x1="205.60" y1="473.64" x2="209.60" y2="473.64" stroke="#2e2e2e" stroke-width="1"/>
<text transform="translate(199.80,478.54) scale(0.83,1)" text-anchor="end" class="tk">1.2</text>
<line x1="205.60" y1="506.00" x2="209.60" y2="506.00" stroke="#2e2e2e" stroke-width="1"/>
<text transform="translate(199.80,510.90) scale(0.83,1)" text-anchor="end" class="tk">1.0</text>
<line x1="205.60" y1="295.66" x2="207.80" y2="295.66" stroke="#2e2e2e" stroke-width="1"/>
<line x1="205.60" y1="328.02" x2="207.80" y2="328.02" stroke="#2e2e2e" stroke-width="1"/>
<line x1="205.60" y1="360.38" x2="207.80" y2="360.38" stroke="#2e2e2e" stroke-width="1"/>
<line x1="205.60" y1="392.74" x2="207.80" y2="392.74" stroke="#2e2e2e" stroke-width="1"/>
<line x1="205.60" y1="425.10" x2="207.80" y2="425.10" stroke="#2e2e2e" stroke-width="1"/>
<line x1="205.60" y1="457.46" x2="207.80" y2="457.46" stroke="#2e2e2e" stroke-width="1"/>
<line x1="205.60" y1="489.82" x2="207.80" y2="489.82" stroke="#2e2e2e" stroke-width="1"/>
<text transform="translate(179.30,409.00) scale(0.82,1) rotate(-90)" text-anchor="middle" class="yt" style="stroke:#111;stroke-width:0.35px">b-value</text>
<text transform="translate(274.80,558.70) scale(0.881,1)" class="xt">Different stress loading stages</text>
<text transform="translate(286.10,581.90) scale(1.02,1)" class="cap">(c) Sandstone S2</text>
<rect x="229.45" y="367.35" width="4.7" height="5.3" fill="none" stroke="#ff7878" stroke-width="0.9"/>
<rect x="255.65" y="370.35" width="4.7" height="5.3" fill="none" stroke="#ff7878" stroke-width="0.9"/>
<rect x="281.85" y="393.45" width="4.7" height="5.3" fill="none" stroke="#ff7878" stroke-width="0.9"/>
<rect x="308.05" y="375.05" width="4.7" height="5.3" fill="none" stroke="#ff7878" stroke-width="0.9"/>
<rect x="334.25" y="367.35" width="4.7" height="5.3" fill="none" stroke="#ff7878" stroke-width="0.9"/>
<rect x="360.45" y="349.65" width="4.7" height="5.3" fill="none" stroke="#ff7878" stroke-width="0.9"/>
<rect x="386.65" y="313.25" width="4.7" height="5.3" fill="none" stroke="#ff7878" stroke-width="0.9"/>
<rect x="412.85" y="364.75" width="4.7" height="5.3" fill="none" stroke="#ff7878" stroke-width="0.9"/>
<rect x="439.05" y="403.35" width="4.7" height="5.3" fill="none" stroke="#ff7878" stroke-width="0.9"/>
<rect x="465.25" y="407.35" width="4.7" height="5.3" fill="none" stroke="#ff7878" stroke-width="0.9"/>
<rect x="491.45" y="411.35" width="4.7" height="5.3" fill="none" stroke="#ff7878" stroke-width="0.9"/>
<ellipse cx="231.80" cy="366.40" rx="2.65" ry="3.0" fill="none" stroke="#7878ff" stroke-width="0.9"/>
<ellipse cx="258.00" cy="375.10" rx="2.65" ry="3.0" fill="none" stroke="#7878ff" stroke-width="0.9"/>
<ellipse cx="284.20" cy="381.80" rx="2.65" ry="3.0" fill="none" stroke="#7878ff" stroke-width="0.9"/>
<ellipse cx="310.40" cy="366.90" rx="2.65" ry="3.0" fill="none" stroke="#7878ff" stroke-width="0.9"/>
<ellipse cx="336.60" cy="366.50" rx="2.65" ry="3.0" fill="none" stroke="#7878ff" stroke-width="0.9"/>
<ellipse cx="362.80" cy="336.60" rx="2.65" ry="3.0" fill="none" stroke="#7878ff" stroke-width="0.9"/>
<ellipse cx="389.00" cy="324.10" rx="2.65" ry="3.0" fill="none" stroke="#7878ff" stroke-width="0.9"/>
<ellipse cx="415.20" cy="377.70" rx="2.65" ry="3.0" fill="none" stroke="#7878ff" stroke-width="0.9"/>
<ellipse cx="441.40" cy="403.80" rx="2.65" ry="3.0" fill="none" stroke="#7878ff" stroke-width="0.9"/>
<ellipse cx="467.60" cy="412.70" rx="2.65" ry="3.0" fill="none" stroke="#7878ff" stroke-width="0.9"/>
<ellipse cx="493.80" cy="412.00" rx="2.65" ry="3.0" fill="none" stroke="#7878ff" stroke-width="0.9"/>
<path d="M231.80,373.00 L234.75,379.30 L228.85,379.30 Z" fill="none" stroke="#ffa860" stroke-width="0.9" stroke-linejoin="miter"/>
<path d="M258.00,374.70 L260.95,381.00 L255.05,381.00 Z" fill="none" stroke="#ffa860" stroke-width="0.9" stroke-linejoin="miter"/>
<path d="M284.20,371.20 L287.15,377.50 L281.25,377.50 Z" fill="none" stroke="#ffa860" stroke-width="0.9" stroke-linejoin="miter"/>
<path d="M310.40,366.70 L313.35,373.00 L307.45,373.00 Z" fill="none" stroke="#ffa860" stroke-width="0.9" stroke-linejoin="miter"/>
<path d="M336.60,354.40 L339.55,360.70 L333.65,360.70 Z" fill="none" stroke="#ffa860" stroke-width="0.9" stroke-linejoin="miter"/>
<path d="M362.80,357.20 L365.75,363.50 L359.85,363.50 Z" fill="none" stroke="#ffa860" stroke-width="0.9" stroke-linejoin="miter"/>
<path d="M389.00,314.50 L391.95,320.80 L386.05,320.80 Z" fill="none" stroke="#ffa860" stroke-width="0.9" stroke-linejoin="miter"/>
<path d="M415.20,370.30 L418.15,376.60 L412.25,376.60 Z" fill="none" stroke="#ffa860" stroke-width="0.9" stroke-linejoin="miter"/>
<path d="M441.40,410.70 L444.35,417.00 L438.45,417.00 Z" fill="none" stroke="#ffa860" stroke-width="0.9" stroke-linejoin="miter"/>
<path d="M467.60,424.30 L470.55,430.60 L464.65,430.60 Z" fill="none" stroke="#ffa860" stroke-width="0.9" stroke-linejoin="miter"/>
<path d="M493.80,416.30 L496.75,422.60 L490.85,422.60 Z" fill="none" stroke="#ffa860" stroke-width="0.9" stroke-linejoin="miter"/>
<path d="M231.80,370.20 L232.60,372.45 L234.73,372.62 L233.10,374.18 L233.61,376.53 L231.80,375.25 L229.99,376.53 L230.50,374.18 L228.87,372.62 L231.00,372.45 Z" fill="none" stroke="#56ad56" stroke-width="0.9"/>
<path d="M258.00,366.90 L258.80,369.15 L260.93,369.32 L259.30,370.88 L259.81,373.23 L258.00,371.95 L256.19,373.23 L256.70,370.88 L255.07,369.32 L257.20,369.15 Z" fill="none" stroke="#56ad56" stroke-width="0.9"/>
<path d="M284.20,391.20 L285.00,393.45 L287.13,393.62 L285.50,395.18 L286.01,397.53 L284.20,396.25 L282.39,397.53 L282.90,395.18 L281.27,393.62 L283.40,393.45 Z" fill="none" stroke="#56ad56" stroke-width="0.9"/>
<path d="M310.40,371.90 L311.20,374.15 L313.33,374.32 L311.70,375.88 L312.21,378.23 L310.40,376.95 L308.59,378.23 L309.10,375.88 L307.47,374.32 L309.60,374.15 Z" fill="none" stroke="#56ad56" stroke-width="0.9"/>
<path d="M336.60,372.20 L337.40,374.45 L339.53,374.62 L337.90,376.18 L338.41,378.53 L336.60,377.25 L334.79,378.53 L335.30,376.18 L333.67,374.62 L335.80,374.45 Z" fill="none" stroke="#56ad56" stroke-width="0.9"/>
<path d="M362.80,346.00 L363.60,348.25 L365.73,348.42 L364.10,349.98 L364.61,352.33 L362.80,351.05 L360.99,352.33 L361.50,349.98 L359.87,348.42 L362.00,348.25 Z" fill="none" stroke="#56ad56" stroke-width="0.9"/>
<path d="M389.00,323.40 L389.80,325.65 L391.93,325.82 L390.30,327.38 L390.81,329.73 L389.00,328.45 L387.19,329.73 L387.70,327.38 L386.07,325.82 L388.20,325.65 Z" fill="none" stroke="#56ad56" stroke-width="0.9"/>
<path d="M415.20,375.10 L416.00,377.35 L418.13,377.52 L416.50,379.08 L417.01,381.43 L415.20,380.15 L413.39,381.43 L413.90,379.08 L412.27,377.52 L414.40,377.35 Z" fill="none" stroke="#56ad56" stroke-width="0.9"/>
<path d="M441.40,406.70 L442.20,408.95 L444.33,409.12 L442.70,410.68 L443.21,413.03 L441.40,411.75 L439.59,413.03 L440.10,410.68 L438.47,409.12 L440.60,408.95 Z" fill="none" stroke="#56ad56" stroke-width="0.9"/>
<path d="M467.60,417.50 L468.40,419.75 L470.53,419.92 L468.90,421.48 L469.41,423.83 L467.60,422.55 L465.79,423.83 L466.30,421.48 L464.67,419.92 L466.80,419.75 Z" fill="none" stroke="#56ad56" stroke-width="0.9"/>
<path d="M493.80,412.90 L494.60,415.15 L496.73,415.32 L495.10,416.88 L495.61,419.23 L493.80,417.95 L491.99,419.23 L492.50,416.88 L490.87,415.32 L493.00,415.15 Z" fill="none" stroke="#56ad56" stroke-width="0.9"/>
<path d="M231.40,371.59 L232.91,371.18 L234.41,370.84 L235.92,370.58 L237.42,370.39 L238.93,370.28 L240.43,370.23 L241.94,370.25 L243.44,370.33 L244.95,370.48 L246.45,370.70 L247.96,370.98 L249.46,371.31 L250.97,371.71 L252.47,372.16 L253.98,372.67 L255.48,373.24 L256.99,373.85 L258.49,374.52 L260.00,375.24 L261.50,376.01 L263.01,376.83 L264.51,377.69 L266.02,378.59 L267.52,379.53 L269.03,380.50 L270.53,381.46 L272.04,382.40 L273.54,383.30 L275.05,384.14 L276.56,384.90 L278.06,385.55 L279.57,386.08 L281.07,386.46 L282.58,386.68 L284.08,386.71 L285.59,386.55 L287.09,386.23 L288.60,385.75 L290.10,385.13 L291.61,384.40 L293.11,383.57 L294.62,382.66 L296.12,381.69 L297.63,380.67 L299.13,379.63 L300.64,378.58 L302.14,377.54 L303.65,376.53 L305.15,375.54 L306.66,374.58 L308.16,373.67 L309.67,372.82 L311.17,372.02 L312.68,371.29 L314.18,370.64 L315.69,370.07 L317.19,369.60 L318.70,369.23 L320.21,368.95 L321.71,368.77 L323.22,368.66 L324.72,368.60 L326.23,368.59 L327.73,368.59 L329.24,368.61 L330.74,368.61 L332.25,368.59 L333.75,368.52 L335.26,368.39 L336.76,368.19 L338.27,367.89 L339.77,367.50 L341.28,367.02 L342.78,366.44 L344.29,365.77 L345.79,365.00 L347.30,364.13 L348.80,363.16 L350.31,362.10 L351.81,360.94 L353.32,359.68 L354.82,358.33 L356.33,356.87 L357.83,355.31 L359.34,353.66 L360.84,351.90 L362.35,350.05 L363.86,348.09 L365.36,346.03 L366.87,343.87 L368.37,341.61 L369.88,339.26 L371.38,336.88 L372.89,334.51 L374.39,332.19 L375.90,329.98 L377.40,327.90 L378.91,326.02 L380.41,324.37 L381.92,323.01 L383.42,321.97 L384.93,321.30 L386.43,321.05 L387.94,321.26 L389.44,321.93 L390.95,323.01 L392.45,324.49 L393.96,326.33 L395.46,328.49 L396.97,330.94 L398.47,333.66 L399.98,336.61 L401.48,339.75 L402.99,343.06 L404.49,346.50 L406.00,350.04 L407.51,353.66 L409.01,357.31 L410.52,360.97 L412.02,364.61 L413.53,368.20 L415.03,371.70 L416.54,375.10 L418.04,378.34 L419.55,381.42 L421.05,384.29 L422.56,386.93 L424.06,389.37 L425.57,391.62 L427.07,393.70 L428.58,395.63 L430.08,397.43 L431.59,399.11 L433.09,400.71 L434.60,402.21 L436.10,403.64 L437.61,404.98 L439.11,406.24 L440.62,407.43 L442.12,408.54 L443.63,409.58 L445.13,410.54 L446.64,411.44 L448.14,412.27 L449.65,413.03 L451.16,413.73 L452.66,414.36 L454.17,414.93 L455.67,415.45 L457.18,415.91 L458.68,416.31 L460.19,416.66 L461.69,416.96 L463.20,417.21 L464.70,417.42 L466.21,417.57 L467.71,417.69 L469.22,417.76 L470.72,417.79 L472.23,417.79 L473.73,417.75 L475.24,417.67 L476.74,417.56 L478.25,417.42 L479.75,417.25 L481.26,417.06 L482.76,416.84 L484.27,416.60 L485.77,416.33 L487.28,416.05 L488.78,415.75 L490.29,415.43 L491.79,415.10 L493.30,414.76" fill="none" stroke="#fc1010" stroke-width="1.5" stroke-linecap="round"/>
<rect x="438.15" y="303.05" width="4.7" height="5.3" fill="none" stroke="#ff7878" stroke-width="0.9"/>
<text x="466.50" y="307.90" class="lg" textLength="33.7" lengthAdjust="spacingAndGlyphs">1# Probe</text>
<ellipse cx="440.50" cy="323.30" rx="2.65" ry="3.0" fill="none" stroke="#7878ff" stroke-width="0.9"/>
<text x="466.50" y="325.60" class="lg" textLength="33.7" lengthAdjust="spacingAndGlyphs">2# Probe</text>
<path d="M440.50,336.90 L443.45,343.20 L437.55,343.20 Z" fill="none" stroke="#ffa860" stroke-width="0.9" stroke-linejoin="miter"/>
<text x="466.50" y="342.20" class="lg" textLength="33.7" lengthAdjust="spacingAndGlyphs">3# Probe</text>
<path d="M440.50,354.60 L441.30,356.85 L443.43,357.02 L441.80,358.58 L442.31,360.93 L440.50,359.65 L438.69,360.93 L439.20,358.58 L437.57,357.02 L439.70,356.85 Z" fill="none" stroke="#56ad56" stroke-width="0.9"/>
<text x="466.50" y="360.00" class="lg" textLength="33.7" lengthAdjust="spacingAndGlyphs">4# Probe</text>
<line x1="426.90" y1="375.60" x2="454.90" y2="375.60" stroke="#fc1010" stroke-width="1.8"/>
<text x="467.30" y="377.50" class="lg" textLength="57.5" lengthAdjust="spacingAndGlyphs">Average values</text>
</svg>
</body></html>
